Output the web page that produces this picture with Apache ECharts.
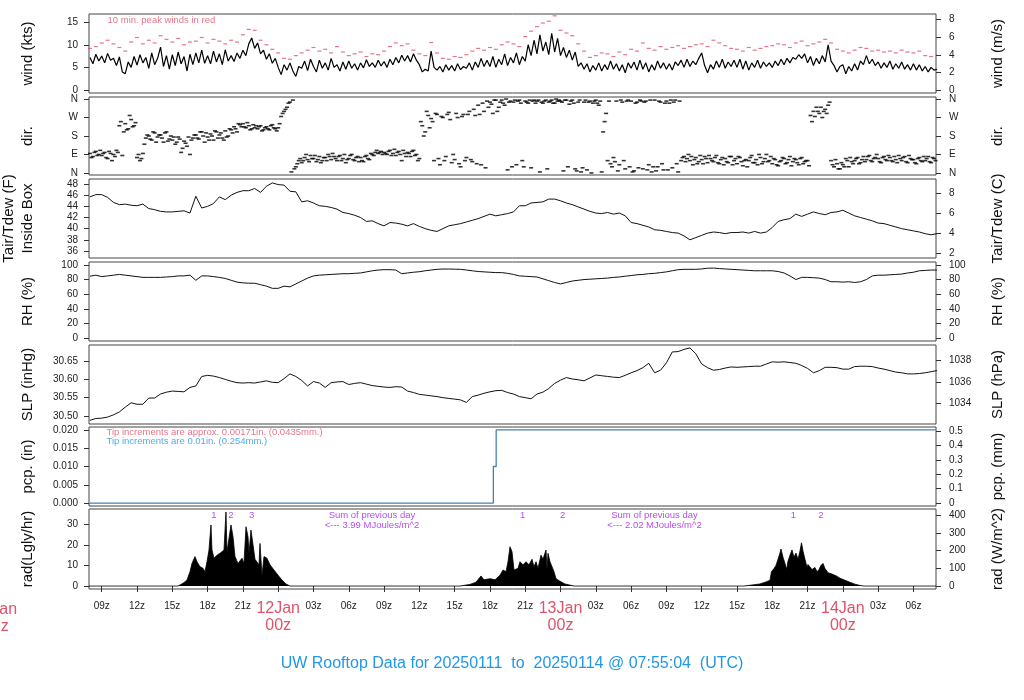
<!DOCTYPE html>
<html><head><meta charset="utf-8">
<script src="https://cdn.jsdelivr.net/npm/echarts@6/dist/echarts.min.js"></script>
<style>html,body{margin:0;padding:0;background:#fff}#c{width:1024px;height:700px}</style>
</head><body><div id="c"></div>
<script>
// time axis: hours since 2025-01-11 00z
const T0 = 7.918, T1 = 79.918;
const qStart = 8, qStep = 0.25;   // wind & direction sampling
const q2Start = 8.125;            // second set of direction readings
const hStart = 8, hStep = 0.5;    // peak, temp, RH, SLP sampling
const xTickHours = [9,12,15,18,21,24,27,30,33,36,39,42,45,48,51,54,57,60,63,66,69,72,75,78];

const windKts = [
7.2,5.8,7.9,6.4, 7.5,6.0,8.1,6.6, 7.0,5.4,7.3,4.0, 3.6,6.2,5.0,7.4, 5.5,7.8,6.0,7.2, 4.8,8.2,5.6,7.0,
9.5,5.2,7.6,4.6, 7.8,5.4,8.4,5.8, 7.4,4.2,7.9,5.6, 8.2,6.0,8.8,5.9, 7.6,5.8,8.6,6.2, 8.0,5.6,8.9,6.4,
7.6,6.3,8.2,7.0, 8.8,7.6,10.2,11.5, 9.2,10.4,8.0,8.8, 6.8,8.0,5.9,7.0, 5.0,3.4,5.6,4.4, 6.0,4.2,3.0,5.2,
4.8,6.4,4.3,6.8, 5.2,4.0,6.6,4.8, 6.0,4.4,7.0,5.0, 5.6,4.2,6.2,4.6, 6.4,4.8,5.8,4.4, 6.0,4.9,6.7,5.2,
6.0,5.0,6.6,5.3, 6.3,5.0,6.8,5.6, 7.2,6.0,7.7,6.4, 7.6,6.2,8.0,6.6, 5.6,4.0,4.6,4.2, 8.6,5.0,4.4,5.2,
4.0,5.6,4.4,5.4, 4.2,5.8,4.5,5.2, 4.8,6.0,4.4,6.2, 5.0,7.0,5.2,6.6, 5.2,7.4,5.0,6.8, 5.6,8.0,5.4,7.2,
6.0,8.2,5.6,7.4, 6.4,10.0,7.6,11.0, 8.0,12.2,8.6,10.6, 7.8,12.5,8.4,11.4, 7.6,9.4,7.2,8.8, 6.6,8.4,5.2,6.0,
4.6,5.8,4.0,5.4, 4.4,6.0,4.2,5.6, 4.5,6.4,4.6,5.8, 4.2,5.6,3.8,6.0, 4.8,6.2,4.4,6.6, 4.6,6.0,4.0,5.6,
4.4,6.4,4.8,6.0, 4.6,5.8,4.4,6.2, 5.4,6.6,5.0,6.8, 5.2,6.4,5.6,7.0, 8.2,5.4,3.8,5.6, 4.6,6.4,5.0,6.8,
4.8,6.2,5.2,6.6, 5.0,6.8,4.6,6.4, 4.4,6.0,5.0,6.6, 4.8,6.2,5.2,6.0, 5.0,6.4,5.4,6.8, 5.6,7.0,6.0,7.2,
6.8,7.8,7.0,8.0, 6.0,7.4,5.4,7.0, 5.8,7.6,6.2,10.0, 6.4,5.4,4.0,5.2, 5.6,3.6,5.2,4.2, 5.8,4.4,6.4,5.6,
7.6,5.8,6.8,5.4, 6.2,4.8,6.0,5.0, 6.4,4.6,5.8,4.8, 6.2,4.6,5.6,4.4, 5.8,4.4,5.6,4.2, 5.2,4.0,5.0,4.4, 4.6];

const peakKts = [
9.2,9.6, 10.4,11.0, 10.2,9.4, 8.6,10.6, 11.6,10.2, 11.0,10.4, 12.0,11.2, 10.6,11.4, 10.0,10.6, 10.8,11.6,
10.4,11.2, 10.8,10.2, 11.0,10.6, 12.2,13.4, 13.2,11.0, 10.0,9.0, 8.2,7.0, 6.8,7.6, 8.2,8.8, 9.4,8.6,
9.0,8.2, 9.6,8.4, 7.6,8.0, 8.4,7.4, 8.0,7.8, 8.6,9.6, 10.4,9.8, 10.2,8.8, 8.0,7.6, 10.5,8.2,
7.0,6.8, 7.4,7.2, 7.8,8.6, 9.2,8.8, 9.4,9.0, 10.0,10.6, 10.2,9.6, 11.8,13.0, 14.0,14.8, 15.2,16.4,
13.2,12.6, 12.0,10.2, 8.6,7.2, 7.6,8.2, 8.0,7.4, 8.4,7.8, 9.0,8.6, 10.4,9.2, 8.8,9.6, 9.0,9.4,
9.8,9.2, 9.6,10.0, 10.2,9.6, 11.0,10.4, 9.8,9.2, 9.0,8.6, 9.4,8.8, 9.2,9.6, 9.8,10.2, 10.0,9.4,
10.4,10.8, 9.8,10.2, 10.6,11.2, 10.4,9.0, 8.6,8.2, 8.8,9.4, 9.2,8.6, 8.8,8.4, 8.6,8.2, 8.8,8.4,
8.2,8.6, 7.6,7.4, 7.2];

const dirDeg = [
95,80,105,90, 85,100,70,95, 90,110,230,85, 240,215,260,230, 75,60,95,170, 180,160,195,175,
185,150,200,165, 160,140,175,100, 155,130,90,170, 185,165,200,150, 175,190,160,200, 185,170,205,180,
210,225,200,235, 240,220,230,215, 220,215,230,210, 225,210,235,215, 220,275,300,320, 345,355,30,60,
50,75,65,85, 70,55,80,60, 75,90,65,80, 60,85,70,50, 70,90,60,80, 75,55,85,65,
90,100,95,105, 100,90,110,95, 85,105,60,95, 100,80,110,90, 70,230,200,280, 265,60,285,40,
270,80,295,50, 65,270,30,285, 75,300,55,280, 330,40,300,350, 345,290,355,320, 355,330,15,350,
345,40,355,60, 350,340,25,355, 350,5,340,355, 345,355,340,350, 350,10,355,335, 355,20,345,5,
345,15,350,340, 355,330,5,250, 60,45,75,350, 40,345,20,355, 350,10,345,355, 20,350,40,5,
355,30,345,15, 350,340,25,355, 5,60,80,70, 60,40,75,55, 65,80,50,70, 55,85,45,75,
70,50,80,60, 45,75,35,65, 60,85,50,40, 75,55,90,60, 45,65,35,60, 70,50,80,55,
65,40,75,55, 60,280,300,320, 290,270,310,330, 60,30,45,20, 40,70,30,55, 60,75,50,80,
65,85,55,75, 70,50,80,60, 75,55,65,85, 60,80,50,70, 65,45,75,55, 60,80,50,70, 65];

const dirDeg2 = [
75,100,85,110, 95,75,105,60, 80,100,250,200, 210,280,225,245, 90,70,140,185, 165,200,150,185,
170,195,155,180, 175,150,165,120, 145,175,160,185, 170,200,180,195, 160,180,205,170, 195,160,175,215,
195,215,240,225, 225,245,210,235, 230,225,205,220, 215,230,220,205, 240,290,310,340, 5,20,45,70,
60,90,55,70, 85,65,50,75, 60,80,95,70, 80,60,90,65, 85,65,75,55, 60,80,70,95,
85,110,100,90, 95,105,85,115, 100,90,110,80, 95,105,85,60, 250,180,300,220, 250,290,70,275,
60,285,260,90, 290,45,275,60, 285,65,310,45, 285,340,25,320, 335,355,300,345, 340,360,345,30,
355,350,340,30, 345,355,350,340, 355,345,350,20, 350,340,360,355, 345,355,30,350, 340,10,355,25,
355,345,0,350, 340,350,200,290, 350,30,55,10, 355,60,350,30, 5,340,25,350, 345,15,355,30,
10,350,45,340, 15,355,345,45, 350,75,55,90, 80,65,45,85, 45,70,85,60, 75,50,65,40,
55,80,40,70, 80,55,60,30, 75,50,65,90, 45,70,55,80, 70,40,55,75, 45,65,35,70,
50,70,45,60, 35,250,275,300, 320,300,290,345, 40,65,20,50, 30,60,75,45, 70,45,65,55,
80,60,70,90, 55,75,65,85, 60,80,50,70, 75,55,85,65, 50,70,60,80, 70,55,75,60];

const tempF = [
45.7,46.1,46.1,45.6,44.7,44.3, 44.4,44.2,44.1,44.4,43.6,43.4, 43.1,43.0,43.0,43.1,43.2,42.8,
45.8,43.7,44.0,44.5,45.7,45.2, 46.0,46.5,46.8,46.8,47.2,46.5, 47.6,48.2,47.9,47.8,46.7,46.6,
44.8,45.0,44.6,44.1,44.0,43.8, 43.5,42.9,42.7,42.4,42.0,41.3, 41.4,40.9,40.5,41.1,41.0,40.8,
40.5,40.9,40.4,40.0,39.7,39.5, 40.0,40.5,40.7,40.9,41.2,41.5, 41.8,42.2,42.6,42.3,42.5,42.7,
43.0,44.1,44.1,44.6,44.7,44.8, 45.3,45.3,45.0,44.6,44.3,43.9, 43.5,43.1,42.8,42.7,42.9,42.6,
42.8,42.3,41.1,40.9,40.6,40.3, 39.8,39.7,39.5,39.3,39.2,38.7, 38.0,38.4,38.8,39.2,39.4,39.3,
39.1,39.3,39.3,39.4,39.2,39.5, 39.2,39.4,40.2,41.3,41.6,41.8, 42.6,42.2,42.6,43.0,42.7,42.5,
42.9,43.0,43.3,42.8,42.3,42.0, 41.7,41.4,41.0,40.9,40.6,40.3, 40.0,39.8,39.6,39.4,39.1,38.9, 39.1];

const rhPct = [
84.6,86,84,85,86,87, 86,85,84,83,83,83, 83,83.5,84,85,85,86, 79,85,85,84,83,81.5,
79,76.5,75.5,75,75,73, 71,68,68,71,70,74, 78,82,85,86,86.5,87, 87.5,88,88,88.5,89,90.5,
92,93,93.5,93.5,93,88, 89,90,90.7,92,93,94, 94.4,94.4,94.2,94,93,92, 91,90.5,90,89.5,89.5,88.5,
87,85,84.5,84,83.5,81, 78.5,76,74,76,78,79, 80,80.5,81,81.5,82,83, 83.5,84.6,85.5,86.5,87,88,
88.5,89.5,90.5,92,93.5,94, 94,94,94.5,95.5,95.7,95, 94.5,94,93.5,93,92.5,92, 92,92,92,91,89,85,
80,83,83,82.5,82,80, 77,77,76.5,77,76,77, 80,85,86,86,86.5,87, 87.5,89,90,92,92.5,93, 93];

const slpInHg = [
30.488,30.493,30.494,30.497,30.503,30.511, 30.524,30.536,30.532,30.532,30.549,30.549,
30.560,30.565,30.568,30.567,30.566,30.578, 30.582,30.608,30.611,30.609,30.605,30.600,
30.595,30.591,30.590,30.591,30.590,30.593, 30.596,30.592,30.591,30.602,30.615,30.608,
30.597,30.582,30.594,30.590,30.578,30.591, 30.593,30.594,30.586,30.589,30.591,30.587,
30.583,30.581,30.579,30.578,30.580,30.579, 30.568,30.564,30.559,30.557,30.555,30.553,
30.550,30.548,30.546,30.544,30.537,30.553, 30.557,30.562,30.566,30.569,30.570,30.564,
30.560,30.553,30.550,30.547,30.560,30.565, 30.575,30.589,30.598,30.605,30.601,30.599,
30.596,30.604,30.612,30.610,30.608,30.606, 30.605,30.611,30.618,30.624,30.632,30.644,
30.618,30.625,30.645,30.675,30.676,30.682, 30.686,30.670,30.642,30.632,30.625,30.627,
30.631,30.634,30.633,30.634,30.635,30.636, 30.636,30.642,30.648,30.647,30.648,30.646,
30.644,30.638,30.630,30.618,30.624,30.633, 30.633,30.632,30.628,30.628,30.635,30.636,
30.636,30.635,30.631,30.628,30.624,30.620, 30.618,30.615,30.615,30.616,30.618,30.621, 30.624];

const pcpHours = [7.918, 42.29, 42.53, 79.918];
const pcpIn = [0, 0.01, 0.02, 0.02];

const radHours = [7.918,15.483,15.908,16.248,16.503,16.673,16.928,17.098,17.353,17.608,17.778,17.948,18.118,18.288,18.373,18.543,18.798,19.053,19.223,19.393,19.563,19.648,19.818,19.988,20.158,20.328,20.583,20.753,20.923,21.093,21.263,21.433,21.518,21.688,21.858,22.028,22.198,22.368,22.453,22.623,22.793,23.048,23.303,23.643,23.983,24.324,24.664,25.004,
39.456,40.306,40.816,41.241,41.496,42.006,42.431,42.856,43.111,43.366,43.536,43.706,43.876,44.046,44.216,44.386,44.556,44.811,45.066,45.321,45.576,45.746,45.916,46.086,46.341,46.511,46.766,46.851,46.936,47.106,47.276,47.446,47.616,47.956,48.381,49.146,
63.596,64.276,64.956,65.466,65.806,65.933,66.146,66.316,66.486,66.656,66.741,66.911,67.081,67.209,67.336,67.506,67.676,67.846,68.016,68.186,68.356,68.484,68.611,68.781,68.951,69.036,69.206,69.376,69.631,69.801,69.971,70.141,70.311,70.481,70.736,71.076,71.416,71.756,72.181,72.606,73.031,73.456,73.796,79.918];
const radLgly = [0,0,1.3,2.9,7,11,14.3,11.8,9.4,8.6,7,11.8,17.5,29.7,17.5,13.5,15,15.9,15.2,17.5,36,16.7,16,29.7,24,14.3,11,11.8,13.5,11,28.8,24,15.9,27.2,28,13,13.5,10.3,20.7,5,14.3,13.5,10.3,7.8,5.3,2.9,1,0,
0,0.8,1.9,4.9,3,3.6,3,5.3,7.8,7,11.8,19.1,16.7,7.8,7,8.6,11.8,10.3,11.8,10.3,13,9.4,11.8,8.6,15,13,17.5,7.8,15.9,11.8,9.4,7,3.6,2.3,1,0,
0,0.5,1.0,2.0,2.8,7,8.5,10,13,16,18,14,11,8,12,15,17.5,14,16,13,17,21,17,13,9,10.5,10,8,9,7,8,10,11,8.5,6.5,5.8,5,3.8,2.8,1.8,0.9,0.3,0,0];

const radNoteHours = [18.54, 19.99, 21.75, 44.78, 48.18, 67.79, 70.14];
const radNoteText = ['1','2','3','1','2','1','2'];
const sumHours = [31.97, 55.99];
const sumMJ = ['3.99', '2.02'];

const titleText = 'UW Rooftop Data for 20250111  to  20250114 @ 07:55:04  (UTC)';

// ---------- build ----------
const FONT = '"Liberation Sans", Arial, sans-serif';
const RED = '#DF536B', BLUE = '#2297E6', PURPLE = '#A020F0';
const dirName = {0:'N',90:'E',180:'S',270:'W',360:'N'};
const KT2MS = 0.514444, INHG2HPA = 33.8639, IN2MM = 25.4, LY2W = 11.622;
const fToC = f => (f - 32) / 1.8;

const panels = [
 {top:14, h:79, lmin:-0.66, lmax:16.8, lt:[0,5,10,15], lf:v=>String(v), ln:'wind (kts)',
  rconv:v=>v*KT2MS, rt:[0,2,4,6,8], rf:v=>String(v), rn:'wind (m/s)'},
 {top:97, h:78, lmin:-10, lmax:370, lt:[0,90,180,270,360], lf:v=>dirName[v], ln:'dir.',
  rconv:v=>v, rt:[0,90,180,270,360], rf:v=>dirName[v], rn:'dir.'},
 {top:179, h:79, lmin:34.74, lmax:48.9, lt:[36,38,40,42,44,46,48], lf:v=>String(v), ln:'Tair/Tdew (F)\nInside Box',
  rconv:fToC, rt:[2,4,6,8], rf:v=>String(v), rn:'Tair/Tdew (C)'},
 {top:262, h:79, lmin:-4, lmax:104, lt:[0,20,40,60,80,100], lf:v=>String(v), ln:'RH (%)',
  rconv:v=>v, rt:[0,20,40,60,80,100], rf:v=>String(v), rn:'RH (%)'},
 {top:345, h:79, lmin:30.478, lmax:30.694, lt:[30.50,30.55,30.60,30.65], lf:v=>v.toFixed(2), ln:'SLP (inHg)',
  rconv:v=>v*INHG2HPA, rt:[1034,1036,1038], rf:v=>String(v), rn:'SLP (hPa)'},
 {top:427, h:79, lmin:-0.0008, lmax:0.0208, lt:[0,0.005,0.01,0.015,0.02], lf:v=>v.toFixed(3), ln:'pcp. (in)',
  rconv:v=>v*IN2MM, rt:[0,0.1,0.2,0.3,0.4,0.5], rf:v=>v===0?'0':v.toFixed(1), rn:'pcp. (mm)'},
 {top:509, h:80, lmin:-1.44, lmax:37.44, lt:[0,10,20,30], lf:v=>String(v), ln:'rad(Lgly/hr)',
  rconv:v=>v*LY2W, rt:[0,100,200,300,400], rf:v=>String(v), rn:'rad (W/m^2)'}
];

const grids = [], xAxes = [], yAxes = [];
panels.forEach((p, i) => {
  grids.push({left:89, right:88, top:p.top, height:p.h, show:true, borderColor:'#444', borderWidth:1,
    backgroundColor:'transparent', containLabel:false, outerBoundsMode:'none'});
  const last = i === panels.length - 1;
  xAxes.push({
    type:'value', gridIndex:i, min:T0, max:T1, splitLine:{show:false},
    axisLine:{show:false},
    axisTick:{show:last, length:6, customValues:xTickHours, lineStyle:{color:'#333'}},
    axisLabel:{show:last, customValues:xTickHours, margin:11, fontFamily:FONT,
      formatter: v => {
        const hh = Math.round(v) % 24;
        if (hh === 0) return '{d|' + (11 + Math.round(v) / 24) + 'Jan}\n{d|00z}';
        return '{h|' + String(hh).padStart(2, '0') + 'z}';
      },
      rich:{ h:{fontSize:10, lineHeight:12, color:'#222', fontFamily:FONT},
             d:{fontSize:16, lineHeight:17, color:RED, fontFamily:FONT} }
    }
  });
  ['left','right'].forEach(side => {
    const L = side === 'left';
    yAxes.push({
      type:'value', gridIndex:i, position:side,
      min: L ? p.lmin : p.rconv(p.lmin), max: L ? p.lmax : p.rconv(p.lmax),
      splitLine:{show:false}, axisLine:{show:false},
      axisTick:{show:true, length:5, customValues: L ? p.lt : p.rt, lineStyle:{color:'#333'}},
      axisLabel:{show:true, customValues: L ? p.lt : p.rt, formatter: L ? p.lf : p.rf,
        fontSize:10, color:'#222', margin: L ? 11 : 13, fontFamily:FONT},
      name: L ? p.ln : p.rn, nameLocation:'middle', nameRotate:90, nameGap: L ? 52 : 52,
      nameTextStyle:{fontSize:15, color:'#111', lineHeight:19, fontFamily:FONT}
    });
  });
});

const ser = (arr, start, step) => arr.map((v, i) => [start + i * step, v]);
const pairs = (hs, vs) => hs.map((h, i) => [h, vs[i]]);
const noteSeries = (xi, yi, data, color, pos) => ({
  type:'scatter', xAxisIndex:xi, yAxisIndex:yi, symbolSize:1, silent:true,
  itemStyle:{color:'transparent'}, data,
  label:{show:true, position:pos, distance:0, formatter:'{b}', color, fontSize:9.5, fontFamily:FONT, lineHeight:12}
});

const series = [
  {type:'line', xAxisIndex:0, yAxisIndex:0, data:ser(windKts, qStart, qStep), symbol:'none',
   lineStyle:{color:'#000', width:1.2}},
  {type:'scatter', xAxisIndex:0, yAxisIndex:0, data:ser(peakKts, hStart, hStep), symbol:'rect',
   symbolSize:[4,1.2], itemStyle:{color:RED}},
  {type:'scatter', xAxisIndex:1, yAxisIndex:2, data:ser(dirDeg, qStart, qStep), symbol:'rect',
   symbolSize:[4,1.6], itemStyle:{color:'#000'}},
  {type:'scatter', xAxisIndex:1, yAxisIndex:2, data:ser(dirDeg2, q2Start, qStep), symbol:'rect',
   symbolSize:[4,1.6], itemStyle:{color:'#000'}},
  {type:'line', xAxisIndex:2, yAxisIndex:4, data:ser(tempF, hStart, hStep), symbol:'none',
   lineStyle:{color:'#111', width:1}},
  {type:'line', xAxisIndex:3, yAxisIndex:6, data:ser(rhPct, hStart, hStep), symbol:'none',
   lineStyle:{color:'#111', width:1}},
  {type:'line', xAxisIndex:4, yAxisIndex:8, data:ser(slpInHg, hStart, hStep), symbol:'none',
   lineStyle:{color:'#111', width:1}},
  {type:'line', xAxisIndex:5, yAxisIndex:10, data:pairs(pcpHours, pcpIn), symbol:'none', step:'end',
   lineStyle:{color:'#4682B4', width:1.3}},
  {type:'line', xAxisIndex:6, yAxisIndex:12, data:pairs(radHours, radLgly), symbol:'none',
   lineStyle:{color:'#000', width:0.8}, areaStyle:{color:'#000', opacity:1}},
  noteSeries(0, 0, [{value:[9.45, 15.5], name:'10 min. peak winds in red'}], RED, 'right'),
  noteSeries(5, 10, [{value:[9.36, 0.01925], name:'Tip increments are approx. 0.00171in. (0.0435mm.)'}], RED, 'right'),
  noteSeries(5, 10, [{value:[9.36, 0.01679], name:'Tip increments are 0.01in. (0.254mm.)'}], BLUE, 'right'),
  noteSeries(6, 12, radNoteHours.map((h, i) => ({value:[h, 34.5], name:radNoteText[i]})), PURPLE, 'inside'),
  noteSeries(6, 12, sumHours.map(h => ({value:[h, 34.5], name:'Sum of previous day'})), PURPLE, 'inside'),
  noteSeries(6, 12, sumHours.map((h, i) => ({value:[h, 29.3], name:'<--- ' + sumMJ[i] + ' MJoules/m^2'})), PURPLE, 'inside')
];

const chart = echarts.init(document.getElementById('c'), null, {renderer:'canvas'});
chart.setOption({
  animation:false, backgroundColor:'#fff',
  textStyle:{fontFamily:FONT},
  title:{text:titleText, left:'center', top:651,
    textStyle:{color:BLUE, fontSize:16, fontWeight:'normal', fontFamily:FONT}},
  grid:grids, xAxis:xAxes, yAxis:yAxes, series
});
// partially visible day label for 11Jan 00z (left of the plotted window)
const px = chart.convertToPixel({xAxisIndex:6}, 0);
chart.setOption({graphic:[{type:'text', x:px, y:601, silent:true,
  style:{text:'11Jan\n00z', fill:RED, font:'16px ' + FONT, align:'center', verticalAlign:'top', lineHeight:17}}]});
</script></body></html>
